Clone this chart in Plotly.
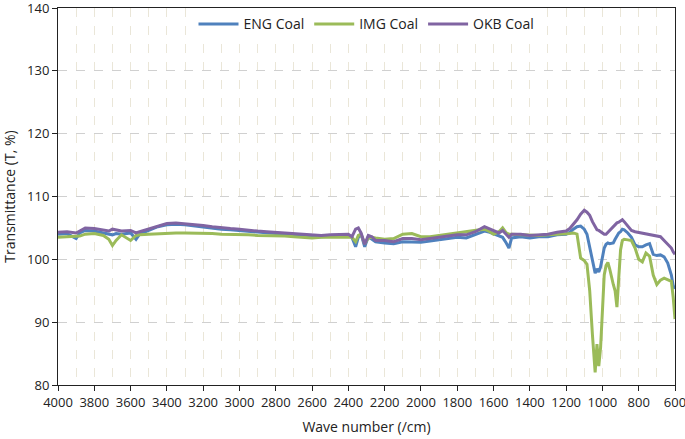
import plotly.graph_objects as go

wave_number = [4000, 3950, 3900, 3880, 3850, 3800, 3750, 3720, 3700, 3680, 3650, 3600, 3570, 3550,
               3500, 3450, 3400, 3350, 3300, 3250, 3200, 3150, 3100, 3050, 3000, 2950, 2900, 2850,
               2800, 2750, 2700, 2650, 2600, 2550, 2500, 2450, 2400, 2380, 2360, 2345, 2330, 2310,
               2290, 2270, 2250, 2200, 2150, 2100, 2050, 2000, 1950, 1900, 1850, 1800, 1750, 1700,
               1650, 1620, 1600, 1570, 1550, 1530, 1515, 1500, 1450, 1400, 1350, 1300, 1250, 1200,
               1180, 1160, 1140, 1120, 1100, 1085, 1070, 1055, 1040, 1030, 1020, 1010, 1000, 990,
               980, 970, 960, 950, 940, 930, 920, 910, 900, 890, 880, 860, 840, 820, 800, 780,
               760, 740, 720, 700, 680, 660, 640, 620, 610, 600]

eng_coal = [104.0, 104.1, 103.3, 104.2, 104.6, 104.5, 104.2, 104.0, 103.9, 104.1, 104.0, 104.2, 103.2, 104.0,
            104.6, 105.2, 105.5, 105.6, 105.5, 105.3, 105.2, 105.0, 104.8, 104.7, 104.6, 104.4, 104.3, 104.2,
            104.1, 103.9, 103.8, 103.6, 103.5, 103.6, 103.7, 103.8, 103.8, 103.5, 102.0, 103.5, 104.0, 102.0,
            103.6, 103.2, 102.8, 102.6, 102.5, 102.8, 102.8, 102.7, 102.9, 103.1, 103.3, 103.5, 103.4, 104.0,
            104.5, 104.3, 104.1, 103.8, 103.5, 102.6, 101.8, 103.4, 103.6, 103.4, 103.6, 103.6, 103.9, 104.0,
            104.3, 104.8, 105.2, 105.3, 104.8, 104.0, 101.8, 99.5, 97.8, 98.5, 98.0, 98.8, 100.5, 101.8,
            102.4, 102.6, 102.5, 102.6, 102.6, 103.2, 103.8, 104.2, 104.4, 104.8, 104.7, 104.2, 103.5, 102.3, 102.0, 102.0,
            102.3, 102.5, 100.8, 100.6, 100.7, 100.4, 99.4, 97.5, 95.8, 95.3]

img_coal = [103.5, 103.6, 103.6, 103.7, 104.0, 104.1, 103.8, 103.2, 102.2, 103.0, 103.9, 103.0, 103.8, 103.9,
            104.0, 104.1, 104.2, 104.2, 104.2, 104.2, 104.1, 104.1, 104.0, 104.0, 103.9, 103.9, 103.8, 103.8,
            103.7, 103.7, 103.6, 103.5, 103.4, 103.5, 103.5, 103.6, 103.6, 103.5, 102.8, 103.8, 104.0, 102.5,
            103.4, 103.5, 103.4, 103.2, 103.3, 104.0, 104.1, 103.6, 103.6, 103.8, 104.0, 104.1, 104.3, 104.5,
            104.8, 104.4, 104.0, 104.4, 105.0, 104.2, 104.0, 104.0, 103.9, 103.8, 103.8, 103.9, 104.0, 104.0,
            104.1, 104.2, 104.0, 100.2, 99.8, 99.2, 95.0, 88.0, 82.0, 86.5, 83.0, 86.0, 92.0, 97.5,
            99.0, 99.5, 98.5, 97.0, 96.0, 95.0, 92.4, 97.0, 101.5, 103.0, 103.2, 103.1, 103.0, 101.8, 100.0, 99.6,
            101.0, 100.5, 97.5, 96.0, 96.7, 97.0, 96.8, 96.5, 94.0, 90.5]

okb_coal = [104.3, 104.4, 104.2, 104.5, 105.0, 104.9, 104.6, 104.5, 104.8, 104.7, 104.5, 104.6, 104.2, 104.4,
            104.8, 105.3, 105.7, 105.8, 105.7, 105.5, 105.4, 105.2, 105.0, 104.9, 104.8, 104.6, 104.5, 104.4,
            104.3, 104.1, 104.0, 103.9, 103.8, 103.8, 103.9, 103.9, 104.0, 103.6, 104.8, 105.0, 104.2, 102.4,
            103.8, 103.6, 103.0, 103.0, 102.8, 103.3, 103.3, 103.1, 103.3, 103.5, 103.7, 103.9, 103.9, 104.4,
            105.2, 104.8, 104.5, 104.2, 104.6, 103.9, 103.5, 104.0, 104.0, 103.8, 103.9, 104.0, 104.3, 104.5,
            104.9, 105.6, 106.3, 107.2, 107.8, 107.5, 107.0, 106.0, 105.2, 104.7, 104.6, 104.4, 104.2, 104.0,
            104.0, 104.3, 104.7, 105.0, 105.3, 105.6, 105.8, 105.9, 106.1, 106.3, 106.0, 105.2, 104.6, 104.4, 104.3, 104.2,
            104.0, 103.9, 103.9, 103.8, 103.6, 103.0, 102.4, 101.8, 101.2, 100.8]

series = [("ENG Coal", eng_coal, "#4F81BD"),
          ("IMG Coal", img_coal, "#9BBB59"),
          ("OKB Coal", okb_coal, "#8064A2")]

font_family = "Open Sans"

fig = go.Figure()
for name, vals, color in series:
    fig.add_trace(go.Scatter(x=wave_number, y=vals, mode="lines", name=name,
                             line=dict(color=color, width=3)))

fig.update_layout(
    width=685, height=439,
    margin=dict(l=58, r=10, t=8, b=54),
    paper_bgcolor="white", plot_bgcolor="white",
    font=dict(family=font_family, size=13, color="#222"),
    legend=dict(orientation="h", x=0.5, xanchor="center", y=0.999, yanchor="top",
                bgcolor="white", font=dict(size=14, color="#222"),
                itemwidth=40, tracegroupgap=0),
    showlegend=True,
)

fig.update_xaxes(
    range=[4000, 600], autorange=False, automargin=False,
    tickmode="linear", tick0=4000, dtick=200,
    ticks="outside", ticklen=5, tickcolor="#222",
    ticklabeloverflow="allow",
    showline=True, linecolor="#222", linewidth=1, mirror=True,
    showgrid=True, gridcolor="#EAE6D8", griddash="dash", gridwidth=1,
    minor=dict(dtick=100, showgrid=True, gridcolor="#EAE6D8", griddash="dash"),
    zeroline=False,
    title=dict(text="Wave number (/cm)", font=dict(size=14), standoff=12),
)
fig.update_yaxes(
    range=[80, 140], autorange=False, automargin=False,
    tickmode="linear", tick0=80, dtick=10,
    ticks="outside", ticklen=5, tickcolor="#222",
    ticklabeloverflow="allow",
    showline=True, linecolor="#222", linewidth=1, mirror=True,
    showgrid=True, gridcolor="#D0D0D0", griddash="dash", gridwidth=1,
    zeroline=False,
    title=dict(text="Transmittance (T, %)", font=dict(size=14), standoff=8),
)

fig.write_html("out.html", config={"displayModeBar": False},
               post_script="document.body.style.margin='0';document.body.style.overflow='hidden';")
